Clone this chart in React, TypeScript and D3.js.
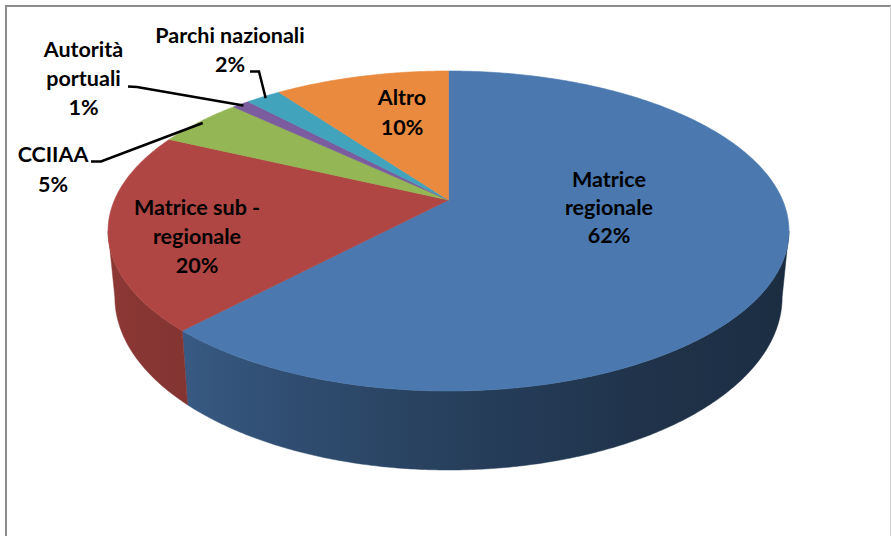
import React from 'react';
import * as d3 from 'd3';

// ---- data ----
const categories = ['Matrice regionale', 'Matrice sub - regionale', 'CCIIAA', 'Autorità portuali', 'Parchi nazionali', 'Altro'];
const values = [62, 20, 5, 1, 2, 10];
const colors = ['#4a78af', '#b04643', '#94b654', '#7b5c9e', '#42a3bd', '#e98a3e'];
// how each category name is wrapped into lines
const wrappedNames = [['Matrice', 'regionale'], ['Matrice sub -', 'regionale'], ['CCIIAA'], ['Autorità', 'portuali'], ['Parchi nazionali'], ['Altro']];

// ---- label layout (positions, not data) ----
const labelLayout = [
  { x: 609, y: 187, lh: 28, leader: null },
  { x: 197, y: 214.5, lh: 29, leader: null },
  { x: 53, y: 162, lh: 29.5, leader: [[91, 161.5], [101, 161.5]] },
  { x: 83.5, y: 57, lh: 29, leader: [[128, 86.5], [137, 87]] },
  { x: 230, y: 43, lh: 29, leader: [[250, 71.5], [259, 71.5]] },
  { x: 402, y: 105, lh: 30, leader: null },
];

// ---- 3D projection ----
const W = 891, HGT = 536;
const CX = 448.5, CY = 200, A = 334, B = 154, K = 0.1937, DEPTH = 63.7, S = 0.98;

function proj(theta: number, r = 1, bottom = false): [number, number] {
  const u = Math.sin(theta) * r;
  const v = -Math.cos(theta) * r;
  const p = 1 / (1 - K * v);
  const x = CX + A * u * p * (bottom ? S : 1);
  const y = CY + B * v * p + (bottom ? DEPTH * p : 0);
  return [x, y];
}

const TH1 = Math.acos(-K);
const TH2 = 2 * Math.PI - TH1;
const deg = Math.PI / 180;

const shade = d3.scaleLinear<number>()
  .domain([TH1, 150 * deg, 180 * deg, 200 * deg, 223 * deg, TH2])
  .range([0.36, 0.42, 0.53, 0.63, 0.75, 0.82]);

function darken(c: string, f: number) {
  const rgb = d3.rgb(c);
  return d3.rgb(rgb.r * f, rgb.g * f, rgb.b * f).formatHex();
}

const XL = proj(TH2)[0];
const XR = proj(TH1)[0];

export default function App() {
  const arcs = d3.pie<number>().sort(null).startAngle(0).endAngle(2 * Math.PI)(values);
  const line = d3.line();

  const gradients = colors.map((c, i) => {
    const stops = d3.range(0, 41).map((k) => {
      const t = TH2 - ((TH2 - TH1) * k) / 40;
      const off = (proj(t)[0] - XL) / (XR - XL);
      return <stop key={k} offset={Math.max(0, Math.min(1, off))} stopColor={darken(c, shade(t))} />;
    });
    return (
      <linearGradient key={i} id={`side${i}`} gradientUnits="userSpaceOnUse" x1={XL} y1={0} x2={XR} y2={0}>
        {stops}
      </linearGradient>
    );
  });

  const sides: JSX.Element[] = [];
  arcs.forEach((a, i) => {
    const a0 = Math.max(a.startAngle, TH1);
    const a1 = Math.min(a.endAngle, TH2);
    if (a0 >= a1) return;
    const n = Math.max(2, Math.ceil((a1 - a0) / (0.5 * deg)));
    const topPts: [number, number][] = [];
    const botPts: [number, number][] = [];
    for (let j = 0; j <= n; j++) {
      const t = a0 + ((a1 - a0) * j) / n;
      topPts.push(proj(t));
      botPts.push(proj(t, 1, true));
    }
    const pts = [...topPts, ...botPts.reverse()];
    sides.push(
      <path key={`s${i}`} d={line(pts) + 'Z'} fill={`url(#side${i})`} stroke={`url(#side${i})`} strokeWidth={0.5} />
    );
  });

  const tops = arcs.map((a, i) => {
    const n = Math.max(2, Math.ceil((a.endAngle - a.startAngle) / (0.5 * deg)));
    const pts: [number, number][] = [[CX, CY]];
    for (let j = 0; j <= n; j++) {
      pts.push(proj(a.startAngle + ((a.endAngle - a.startAngle) * j) / n));
    }
    return <path key={`t${i}`} d={line(pts) + 'Z'} fill={colors[i]} stroke={colors[i]} strokeWidth={0.6} />;
  });

  const labels = arcs.map((a, i) => {
    const L = labelLayout[i];
    const lines = [...wrappedNames[i], `${values[i]}%`];
    let leader = null;
    if (L.leader) {
      const mid = (a.startAngle + a.endAngle) / 2;
      const end = proj(mid, 0.985);
      leader = (
        <path d={line([...(L.leader as [number, number][]), end])!} fill="none" stroke="#000" strokeWidth={2.5} />
      );
    }
    return (
      <g key={`l${i}`}>
        {leader}
        <text
          textAnchor="middle"
          fontFamily="Lato, 'Open Sans', sans-serif"
          fontWeight={700}
          fontSize={21.5}
          fill="#000"
        >
          {lines.map((t, k) => (
            <tspan key={k} x={L.x} y={L.y + k * L.lh}>{t}</tspan>
          ))}
        </text>
      </g>
    );
  });

  return (
    <svg width={W} height={HGT} style={{ position: 'absolute', left: 0, top: 0, background: '#fff' }}>
      <defs>{gradients}</defs>
      <rect x={0} y={0} width={W} height={HGT} fill="#fff" />
      <line x1={6} y1={6} x2={W} y2={6} stroke="#8c8c8c" strokeWidth={2} />
      <line x1={6} y1={5} x2={6} y2={HGT} stroke="#8c8c8c" strokeWidth={2} />
      <line x1={890.5} y1={6} x2={890.5} y2={HGT} stroke="#d4d4d4" strokeWidth={1} />
      {sides}
      {tops}
      {labels}
    </svg>
  );
}
